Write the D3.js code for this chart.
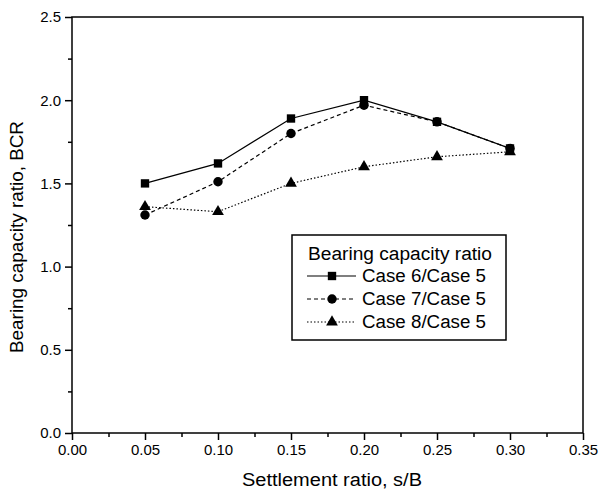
<!DOCTYPE html>
<html lang="en">
<head>
    <meta charset="UTF-8">
    <title>Bearing capacity ratio</title>
    <script src="https://cdn.jsdelivr.net/npm/d3@7/dist/d3.min.js"></script>
    <style>
        html, body { margin: 0; padding: 0; background: #fff; overflow: hidden; }
        svg { display: block; }
        text { font-family: "Liberation Sans", Arial, sans-serif; fill: #000; }
    </style>
</head>
<body>
    <div id="chart"></div>

    <script>
        // data
        const settlement = [0.05, 0.10, 0.15, 0.20, 0.25, 0.30];
        const case6 = [1.50, 1.62, 1.89, 2.00, 1.87, 1.71];
        const case7 = [1.31, 1.51, 1.80, 1.97, 1.87, 1.71];
        const case8 = [1.36, 1.33, 1.50, 1.60, 1.66, 1.69];
        const seriesNames = ["Case 6/Case 5", "Case 7/Case 5", "Case 8/Case 5"];
        const xTicks = [0, 0.05, 0.10, 0.15, 0.20, 0.25, 0.30, 0.35];
        const yTicks = [0, 0.5, 1.0, 1.5, 2.0, 2.5];

        const width = 600, height = 491;
        const margin = {top: 17, right: 17, bottom: 58, left: 72};
        const innerWidth = width - margin.left - margin.right;
        const innerHeight = height - margin.top - margin.bottom;

        const svg = d3.select("#chart").append("svg")
            .attr("width", width).attr("height", height);
        const g = svg.append("g").attr("transform", `translate(${margin.left},${margin.top})`);

        const x = d3.scaleLinear().domain([0, 0.35]).range([0, innerWidth]);
        const y = d3.scaleLinear().domain([0, 2.5]).range([innerHeight, 0]);

        // frame
        g.append("rect")
            .attr("width", innerWidth).attr("height", innerHeight)
            .attr("fill", "none").attr("stroke", "#000").attr("stroke-width", 1.5);

        // minor ticks (no labels)
        const xMinor = d3.range(0.025, 0.35, 0.05);
        const yMinor = d3.range(0.25, 2.5, 0.5);
        g.append("g").attr("transform", `translate(0,${innerHeight})`)
            .call(d3.axisBottom(x).tickValues(xMinor).tickSize(4).tickFormat(""))
            .call(a => a.select(".domain").remove())
            .call(a => a.selectAll("text").remove())
            .selectAll("line").attr("stroke-width", 1.5);
        g.append("g")
            .call(d3.axisLeft(y).tickValues(yMinor).tickSize(4).tickFormat(""))
            .call(a => a.select(".domain").remove())
            .call(a => a.selectAll("text").remove())
            .selectAll("line").attr("stroke-width", 1.5);

        // major ticks
        const xAxis = g.append("g").attr("transform", `translate(0,${innerHeight})`)
            .call(d3.axisBottom(x).tickValues(xTicks).tickSize(7).tickPadding(4).tickFormat(d3.format(".2f")));
        xAxis.select(".domain").remove();
        xAxis.selectAll("line").attr("stroke-width", 1.5);
        xAxis.selectAll("text").attr("font-size", 15).style("font-family", "Liberation Sans, Arial, sans-serif");

        const yAxis = g.append("g")
            .call(d3.axisLeft(y).tickValues(yTicks).tickSize(7).tickPadding(4).tickFormat(d3.format(".1f")));
        yAxis.select(".domain").remove();
        yAxis.selectAll("line").attr("stroke-width", 1.5);
        yAxis.selectAll("text").attr("font-size", 15).style("font-family", "Liberation Sans, Arial, sans-serif");

        // axis titles
        svg.append("text")
            .attr("x", 332).attr("y", 486)
            .attr("text-anchor", "middle").attr("font-size", 18)
            .attr("textLength", 180).attr("lengthAdjust", "spacingAndGlyphs")
            .text("Settlement ratio, s/B");
        svg.append("text")
            .attr("transform", "translate(23,237) rotate(-90)")
            .attr("text-anchor", "middle").attr("font-size", 18)
            .attr("textLength", 232).attr("lengthAdjust", "spacingAndGlyphs")
            .text("Bearing capacity ratio, BCR");

        // series
        const allSeries = [
            {name: seriesNames[0], values: case6, dash: null, shape: d3.symbolSquare, size: 70},
            {name: seriesNames[1], values: case7, dash: "4,3", shape: d3.symbolCircle, size: 70},
            {name: seriesNames[2], values: case8, dash: "1.5,2", shape: d3.symbolTriangle, size: 60}
        ];

        const line = d3.line()
            .x((d, i) => x(settlement[i]))
            .y(d => y(d));

        allSeries.forEach(s => {
            g.append("path")
                .attr("d", line(s.values))
                .attr("fill", "none").attr("stroke", "#000").attr("stroke-width", 1.2)
                .attr("stroke-dasharray", s.dash);
            g.selectAll(null)
                .data(s.values)
                .join("path")
                .attr("transform", (d, i) => `translate(${x(settlement[i])},${y(d)})`)
                .attr("d", d3.symbol().type(s.shape).size(s.size))
                .attr("fill", "#000");
        });

        // legend
        const legend = svg.append("g").attr("transform", "translate(292,235)");
        legend.append("rect")
            .attr("width", 214).attr("height", 105)
            .attr("fill", "#fff").attr("stroke", "#000").attr("stroke-width", 1.5);
        legend.append("text")
            .attr("x", 16).attr("y", 25).attr("font-size", 18)
            .attr("textLength", 184).attr("lengthAdjust", "spacingAndGlyphs")
            .text("Bearing capacity ratio");
        allSeries.forEach((s, i) => {
            const row = legend.append("g").attr("transform", `translate(0,${41 + i * 23})`);
            row.append("line")
                .attr("x1", 15).attr("x2", 64)
                .attr("stroke", "#000").attr("stroke-width", 1.2)
                .attr("stroke-dasharray", s.dash);
            row.append("path")
                .attr("transform", "translate(40,0)")
                .attr("d", d3.symbol().type(s.shape).size(s.size))
                .attr("fill", "#000");
            row.append("text")
                .attr("x", 70).attr("y", 0).attr("dy", "0.35em")
                .attr("font-size", 18)
                .attr("textLength", 124).attr("lengthAdjust", "spacingAndGlyphs")
                .text(s.name);
        });
    </script>
</body>
</html>
